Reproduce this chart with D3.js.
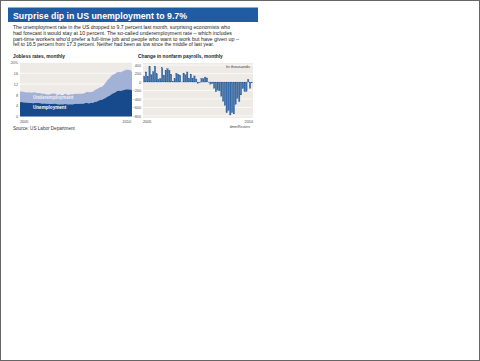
<!DOCTYPE html>
<html><head><meta charset="utf-8">
<script src="https://cdn.jsdelivr.net/npm/d3@7"></script>
<style>body{margin:0;background:#fff}svg{display:block}text{font-family:"Liberation Sans",Arial,sans-serif}</style>
</head><body>
<script>
const title = "Surprise dip in US unemployment to 9.7%";
const paragraph = [
 "The unemployment rate in the US dropped to 9.7 percent last month, surprising economists who",
 "had forecast it would stay at 10 percent. The so-called underemployment rate \u2013 which includes",
 "part-time workers who'd prefer a full-time job and people who want to work but have given up \u2013",
 "fell to 16.5 percent from 17.3 percent. Neither had been as low since the middle of last year."
];
const months = d3.utcMonth.range(new Date(Date.UTC(2005,0,1)), new Date(Date.UTC(2010,1,1)));
const unemployment = [
 5.3,5.4,5.2,5.2,5.1,5.0,5.0,4.9,5.0,5.0,5.0,4.9,
 4.7,4.8,4.7,4.7,4.6,4.6,4.7,4.7,4.5,4.4,4.5,4.4,
 4.6,4.5,4.4,4.5,4.4,4.6,4.7,4.6,4.7,4.7,4.7,5.0,
 5.0,4.8,5.1,5.0,5.4,5.5,5.8,6.1,6.2,6.6,6.9,7.4,
 7.7,8.2,8.6,8.9,9.4,9.5,9.4,9.7,9.8,10.1,10.0,10.0,
 9.7];
const underemployment = [
 9.3,9.3,9.1,9.0,8.9,9.0,8.8,8.9,9.0,8.7,8.7,8.6,
 8.4,8.4,8.2,8.1,8.2,8.4,8.5,8.4,8.0,8.2,8.1,7.9,
 8.4,8.2,8.0,8.2,8.2,8.3,8.4,8.4,8.4,8.4,8.5,8.8,
 9.2,9.0,9.1,9.2,9.7,10.1,10.5,10.8,11.0,11.8,12.6,13.6,
 14.2,15.1,15.6,15.8,16.4,16.5,16.4,16.8,17.0,17.4,17.2,17.3,
 16.5];
const payrolls = [
 134,239,134,363,175,245,373,196,67,84,337,159,
 277,315,280,182,23,77,207,184,157,2,210,171,
 238,88,188,78,144,71,-33,-16,85,82,118,97,
 -10,-50,-33,-149,-231,-193,-210,-334,-458,-554,-728,-673,
 -779,-726,-753,-528,-387,-463,-304,-154,-225,-224,64,-150,
 -20];
const rateTicks = [0,4,8,12,16,20];
const payTicks = [400,200,0,-200,-400,-600,-800];
const yearLabels = ["2005","2010"];

const W=480,H=361;
const svg = d3.select("body").append("svg").attr("width",W).attr("height",H);
svg.append("rect").attr("x",0.5).attr("y",0.5).attr("width",W-1).attr("height",H-1).attr("fill","#fff").attr("stroke","#666");

// title bar
svg.append("rect").attr("x",8).attr("y",7.5).attr("width",250).attr("height",14.5).attr("fill","#1f5ca4");
svg.append("text").attr("x",13).attr("y",19.3).attr("fill","#fff").attr("font-weight","bold")
  .attr("font-size",9.8).attr("textLength",174).attr("lengthAdjust","spacingAndGlyphs").text(title);
const pw=[217,219,226,201];
paragraph.forEach((t,i)=>{
  svg.append("text").attr("x",13).attr("y",29.3+i*5.6).attr("font-size",5.3).attr("fill","#222")
   .attr("textLength",pw[i]).attr("lengthAdjust","spacingAndGlyphs").text(t);
});

// left chart
const L={x0:20,x1:132,y0:62.5,y1:116.5};
svg.append("text").attr("x",13).attr("y",57.5).attr("font-size",4.8).attr("font-weight","bold").attr("fill","#222").text("Jobless rates, monthly");
const xL = d3.scaleLinear().domain([0,months.length-1]).range([L.x0,L.x1]);
const yL = d3.scaleLinear().domain([0,20]).range([L.y1,L.y0]);
svg.append("rect").attr("x",L.x0).attr("y",L.y0).attr("width",L.x1-L.x0).attr("height",L.y1-L.y0).attr("fill","#eeebe7");
const gL = svg.append("g");
gL.selectAll("line").data(rateTicks.slice(1)).join("line")
  .attr("x1",L.x0).attr("x2",L.x1).attr("y1",d=>yL(d)).attr("y2",d=>yL(d)).attr("stroke","#fff").attr("stroke-width",0.7);
const ayL = svg.append("g").attr("transform",`translate(${L.x0},0)`)
  .call(d3.axisLeft(yL).tickValues(rateTicks).tickSize(0).tickPadding(2).tickFormat(d=>d===20?"20%":d));
ayL.select(".domain").remove();
ayL.selectAll("text").attr("font-size",3.8).attr("fill","#555").attr("font-family","Liberation Sans");
const areaU6 = d3.area().x((d,i)=>xL(i)).y0((d,i)=>yL(unemployment[i])).y1(d=>yL(d));
const areaU3 = d3.area().x((d,i)=>xL(i)).y0(yL(0)).y1(d=>yL(d));
svg.append("path").datum(underemployment).attr("d",areaU6).attr("fill","#a2b1d6");
svg.append("path").datum(unemployment).attr("d",areaU3).attr("fill","#174a8c");
svg.append("text").attr("x",33).attr("y",98.5).attr("font-size",4.6).attr("font-weight","bold").attr("fill","#ffffff").attr("fill-opacity",0.85).text("Underemployment");
svg.append("text").attr("x",33).attr("y",108.5).attr("font-size",4.6).attr("font-weight","bold").attr("fill","#fff").text("Unemployment");
svg.append("text").attr("x",L.x0).attr("y",122.5).attr("font-size",3.8).attr("fill","#444").text(yearLabels[0]);
svg.append("text").attr("x",L.x1-1).attr("y",122.5).attr("text-anchor","end").attr("font-size",3.8).attr("fill","#444").text(yearLabels[1]);
svg.append("text").attr("x",13).attr("y",130).attr("font-size",4.6).attr("fill","#333").text("Source: US Labor Department");

// right chart
const R={x0:143,x1:253,y0:63,y1:118};
svg.append("text").attr("x",138).attr("y",57.5).attr("font-size",4.8).attr("font-weight","bold").attr("fill","#222").text("Change in nonfarm payrolls, monthly");
const xR = d3.scaleBand().domain(d3.range(payrolls.length)).range([R.x0+0.5,R.x1-0.5]).paddingInner(0.2);
const yR = d3.scaleLinear().domain([-850,450]).range([R.y1,R.y0]);
svg.append("rect").attr("x",R.x0).attr("y",R.y0).attr("width",R.x1-R.x0).attr("height",R.y1-R.y0).attr("fill","#eeebe7");
svg.append("g").selectAll("line").data(payTicks).join("line")
  .attr("x1",R.x0).attr("x2",R.x1).attr("y1",d=>yR(d)).attr("y2",d=>yR(d)).attr("stroke","#fff").attr("stroke-width",0.7);
const ayR = svg.append("g").attr("transform",`translate(${R.x0},0)`)
  .call(d3.axisLeft(yR).tickValues(payTicks).tickSize(0).tickPadding(2));
ayR.select(".domain").remove();
ayR.selectAll("text").attr("font-size",3.8).attr("fill","#555").attr("font-family","Liberation Sans");
svg.append("g").selectAll("rect").data(payrolls).join("rect")
  .attr("x",(d,i)=>xR(i)).attr("width",xR.bandwidth())
  .attr("y",d=>yR(Math.max(0,d))).attr("height",d=>Math.abs(yR(d)-yR(0)))
  .attr("fill","#3a6dad").attr("stroke","#1f4f8a").attr("stroke-width",0.25);
svg.append("text").attr("x",250).attr("y",68).attr("text-anchor","end").attr("font-size",4.2).attr("fill","#444").text("In thousands");
svg.append("text").attr("x",R.x0).attr("y",122.5).attr("font-size",3.8).attr("fill","#444").text(yearLabels[0]);
svg.append("text").attr("x",R.x1).attr("y",122.5).attr("text-anchor","end").attr("font-size",3.8).attr("fill","#444").text(yearLabels[1]);
svg.append("text").attr("x",250).attr("y",127.5).attr("text-anchor","end").attr("font-size",3.4).attr("fill","#444").text("dmm/Reuters");
</script>
</body></html>
